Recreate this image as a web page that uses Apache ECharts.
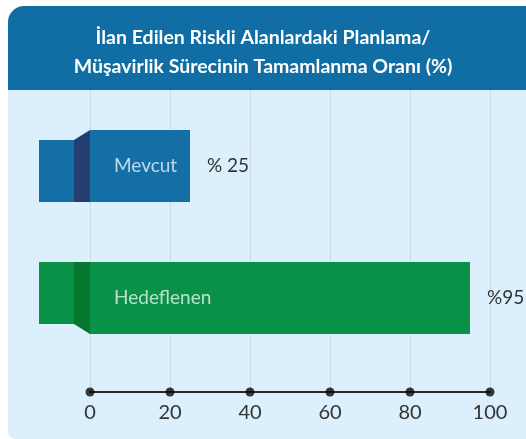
<!DOCTYPE html>
<html>
<head>
<meta charset="utf-8">
<script src="https://cdn.jsdelivr.net/npm/echarts@6/dist/echarts.min.js"></script>
<style>
  html, body { margin: 0; padding: 0; background: #fff; }
  #chart { width: 526px; height: 439px; }
</style>
</head>
<body>
<div id="chart"></div>
<script>
  // chart data
  var titleLines = ['İlan Edilen Riskli Alanlardaki Planlama/', 'Müşavirlik Sürecinin Tamamlanma Oranı (%)'];
  var categories = ['Mevcut', 'Hedeflenen'];
  var values = [25, 95];
  var valueLabels = ['% 25', '%95'];
  var ticks = [0, 20, 40, 60, 80, 100];

  var mainColors = ['#136fa6', '#0a9148'];
  var foldColors = ['#243f6f', '#06772f'];
  var nameColors = ['rgba(220,235,248,0.85)', 'rgba(215,240,222,0.85)'];
  var font = 'Lato, "Open Sans", sans-serif';

  var myChart = echarts.init(document.getElementById('chart'));

  myChart.setOption({
    animation: false,
    textStyle: { fontFamily: font },
    graphic: [
      {
        type: 'rect',
        z: -10,
        shape: { x: 8, y: 6, width: 518, height: 84, r: [16, 0, 0, 0] },
        style: { fill: '#116ea4' }
      },
      {
        type: 'rect',
        z: -10,
        shape: { x: 8, y: 90, width: 518, height: 349, r: [0, 0, 0, 8] },
        style: { fill: '#dbf0fc' }
      }
    ],
    title: {
      text: titleLines.join('\n'),
      left: 'center',
      top: 18,
      textStyle: {
        color: '#fff',
        fontFamily: font,
        fontWeight: 'bold',
        fontSize: 19.5,
        lineHeight: 29
      }
    },
    grid: [
      { left: 90, right: 36, top: 90, bottom: 47 },
      { left: 90, right: 36, top: 100, bottom: 75 }
    ],
    xAxis: [
      {
        gridIndex: 0,
        type: 'value',
        min: 0,
        max: 100,
        interval: 20,
        splitLine: { show: true, lineStyle: { color: '#bcc6ce', type: 'dotted', width: 1 } },
        axisLine: { show: true, lineStyle: { color: '#2a2a2a', width: 2 } },
        axisTick: { show: false },
        axisLabel: { fontSize: 20, color: '#333', margin: 11, fontFamily: font }
      },
      {
        gridIndex: 1,
        type: 'value',
        min: 0,
        max: 100,
        show: false
      }
    ],
    yAxis: [
      { gridIndex: 0, type: 'value', min: 0, max: 1, show: false },
      {
        gridIndex: 1,
        type: 'category',
        data: categories,
        inverse: true,
        show: false
      }
    ],
    series: [
      {
        // dots on the axis
        type: 'scatter',
        xAxisIndex: 0,
        yAxisIndex: 0,
        symbolSize: 9,
        clip: false,
        itemStyle: { color: '#0a0a0a' },
        data: ticks.map(function (t) { return [t, 0]; }),
        z: 5
      },
      {
        // folded ribbon end on the left of each bar
        type: 'custom',
        xAxisIndex: 1,
        yAxisIndex: 1,
        clip: false,
        encode: { x: 0, y: 1 },
        data: categories.map(function (c, i) { return [0, i]; }),
        renderItem: function (params, api) {
          var start = api.coord([0, api.value(1)]);
          var bw = 72;
          var x0 = start[0];
          var top = start[1] - bw / 2;
          var bottom = start[1] + bw / 2;
          var up = params.dataIndex === 0;
          var flap = up
            ? { x: x0 - 51, y: top + 10, width: 35, height: bw - 10 }
            : { x: x0 - 51, y: top, width: 35, height: bw - 10 };
          var pts = up
            ? [[x0 - 16, top + 10], [x0, top], [x0, bottom], [x0 - 16, bottom]]
            : [[x0 - 16, top], [x0, top], [x0, bottom], [x0 - 16, bottom - 10]];
          return {
            type: 'group',
            children: [
              { type: 'rect', shape: flap, style: { fill: mainColors[params.dataIndex] } },
              { type: 'polygon', shape: { points: pts }, style: { fill: foldColors[params.dataIndex] } }
            ]
          };
        }
      },
      {
        type: 'bar',
        xAxisIndex: 1,
        yAxisIndex: 1,
        barWidth: 72,
        data: values.map(function (v, i) {
          return { value: v, itemStyle: { color: mainColors[i] }, label: { color: nameColors[i] } };
        }),
        label: {
          show: true,
          position: [24, '50%'],
          align: 'left',
          verticalAlign: 'middle',
          fontSize: 19,
          fontFamily: font,
          formatter: function (p) { return categories[p.dataIndex]; }
        }
      },
      {
        type: 'bar',
        xAxisIndex: 1,
        yAxisIndex: 1,
        barWidth: 72,
        barGap: '-100%',
        silent: true,
        itemStyle: { color: 'transparent' },
        data: values,
        label: {
          show: true,
          position: 'right',
          distance: 17,
          fontSize: 19,
          color: '#333',
          fontFamily: font,
          formatter: function (p) { return valueLabels[p.dataIndex]; }
        }
      }
    ]
  });
</script>
</body>
</html>
